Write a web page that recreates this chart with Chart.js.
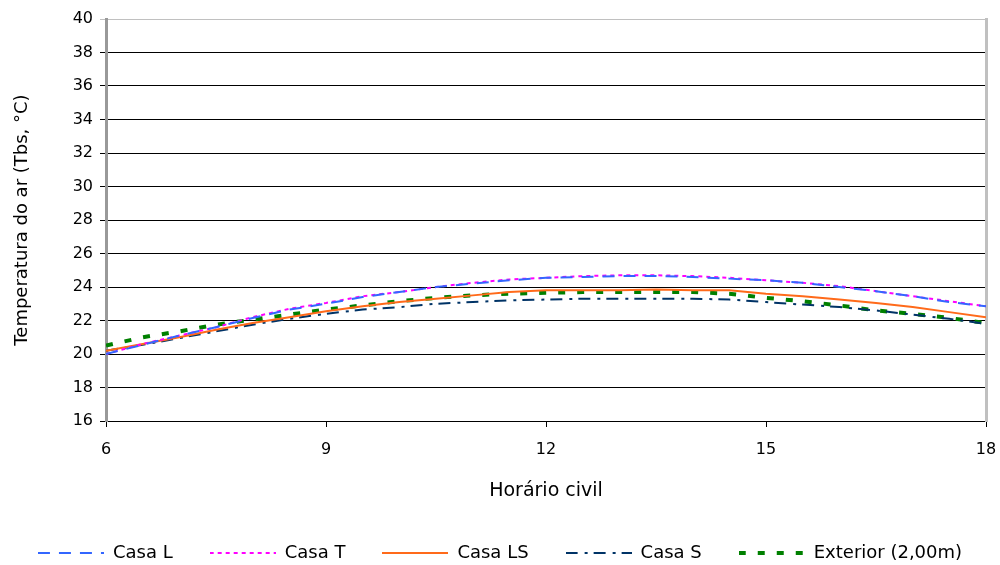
<!DOCTYPE html>
<html>
<head>
<meta charset="utf-8">
<title>Temperatura do ar</title>
<script src="https://cdn.jsdelivr.net/npm/chart.js@4"></script>
<style>
    html, body { margin: 0; padding: 0; background: #fff; }
</style>
</head>
<body>
<canvas id="tempChart" width="1000" height="565"></canvas>
<script>
// hours (civil time) and air temperature per house
const hours = [6, 6.5, 7, 7.5, 8, 8.5, 9, 9.5, 10, 10.5, 11, 11.5, 12, 12.5, 13, 13.5, 14, 14.5, 15, 15.5, 16, 16.5, 17, 17.5, 18];
const casaL = [20.0, 20.55, 21.1, 21.6, 22.15, 22.65, 23.0, 23.4, 23.7, 24.0, 24.2, 24.4, 24.55, 24.6, 24.65, 24.65, 24.6, 24.5, 24.4, 24.25, 24.0, 23.75, 23.45, 23.1, 22.85];
const casaT = [20.0, 20.6, 21.1, 21.6, 22.2, 22.7, 23.05, 23.45, 23.7, 24.0, 24.25, 24.45, 24.55, 24.65, 24.7, 24.7, 24.65, 24.55, 24.4, 24.25, 24.05, 23.75, 23.45, 23.15, 22.85];
const casaLS = [20.2, 20.6, 21.0, 21.45, 21.85, 22.2, 22.55, 22.85, 23.1, 23.3, 23.5, 23.7, 23.8, 23.8, 23.8, 23.85, 23.8, 23.8, 23.6, 23.45, 23.25, 23.05, 22.8, 22.5, 22.2];
const casaS = [20.2, 20.55, 20.95, 21.35, 21.75, 22.1, 22.4, 22.65, 22.8, 23.0, 23.1, 23.2, 23.25, 23.3, 23.3, 23.3, 23.3, 23.25, 23.1, 22.95, 22.8, 22.6, 22.35, 22.1, 21.8];
const exterior = [20.5, 21.0, 21.35, 21.75, 22.05, 22.35, 22.65, 22.9, 23.15, 23.35, 23.5, 23.6, 23.65, 23.7, 23.7, 23.7, 23.7, 23.6, 23.35, 23.15, 22.9, 22.6, 22.4, 22.15, 21.85];

const xTicks = [6, 9, 12, 15, 18];
const yMin = 16, yMax = 40, yStep = 2;

const toPoints = (vals) => vals.map((v, i) => ({ x: hours[i], y: v }));

// little line sample used as the legend symbol (keeps the dash pattern)
const SAMPLE_W = 66;
function lineSample(color, width, dash) {
    var c = document.createElement("canvas");
    c.width = SAMPLE_W;
    c.height = 10;
    var g = c.getContext("2d");
    g.strokeStyle = color;
    g.lineWidth = width;
    g.setLineDash(dash);
    g.beginPath();
    g.moveTo(0, 5);
    g.lineTo(SAMPLE_W, 5);
    g.stroke();
    return c;
}

function series(label, vals, color, width, dash) {
    return {
        label: label,
        data: toPoints(vals),
        borderColor: color,
        backgroundColor: color,
        borderWidth: width,
        borderDash: dash,
        pointStyle: lineSample(color, width, dash),
    };
}

Chart.defaults.font.family = "'DejaVu Sans', sans-serif";
Chart.defaults.color = "#000";

var ctx = document.getElementById("tempChart").getContext("2d");
var myChart = new Chart(ctx, {
    type: "line",
    data: {
        datasets: [
            series("Casa L", casaL, "#3366ff", 2, [12, 9]),
            series("Casa T", casaT, "#ff00ff", 2, [4, 4]),
            series("Casa LS", casaLS, "#ff6a1a", 2, []),
            series("Casa S", casaS, "#003366", 2, [12, 7, 3, 6]),
            series("Exterior (2,00m)", exterior, "#008000", 4, [7, 12]),
        ],
    },
    options: {
        responsive: false,
        animation: false,
        layout: { padding: { left: 0, right: 0, top: 19, bottom: 0 } },
        elements: {
            point: { radius: 0, hoverRadius: 0 },
            line: { tension: 0, fill: false },
        },
        plugins: {
            tooltip: { enabled: false },
            legend: {
                position: "bottom",
                maxHeight: 58,
                labels: {
                    usePointStyle: true,
                    pointStyleWidth: SAMPLE_W,
                    padding: 37,
                    font: { size: 18 },
                    color: "#000",
                },
            },
        },
        scales: {
            x: {
                type: "linear",
                min: 6,
                max: 18,
                afterBuildTicks: (s) => { s.ticks = xTicks.map(v => ({ value: v })); },
                ticks: { font: { size: 16 }, padding: 13, maxRotation: 0 },
                grid: { drawOnChartArea: false, drawTicks: true, tickLength: 6, color: "#000" },
                border: { color: "#000", width: 1 },
                title: {
                    display: true,
                    text: "Horário civil",
                    font: { size: 19 },
                    padding: { top: 0, bottom: 5 },
                },
                afterFit: (s) => {
                    s.height = 86;
                    s.paddingLeft = 0;
                    s.paddingRight = 0;
                },
            },
            y: {
                min: yMin,
                max: yMax,
                ticks: { stepSize: yStep, font: { size: 16 }, padding: 7 },
                grid: {
                    color: (c) => (c.tick && c.tick.value === yMax ? "#c0c0c0" : "#000"),
                    lineWidth: 1,
                    tickLength: 6,
                },
                border: { color: "#999", width: 3 },
                title: {
                    display: true,
                    text: "Temperatura do ar (Tbs, °C)",
                    font: { size: 18 },
                    padding: { top: 12, bottom: 0 },
                },
                afterFit: (s) => { s.width = 106; },
            },
            y2: {
                position: "right",
                min: yMin,
                max: yMax,
                ticks: { display: false },
                grid: { drawOnChartArea: false, drawTicks: false },
                border: { color: "#c0c0c0", width: 3 },
                afterFit: (s) => { s.width = 14; },
            },
        },
    },
});
</script>
</body>
</html>
